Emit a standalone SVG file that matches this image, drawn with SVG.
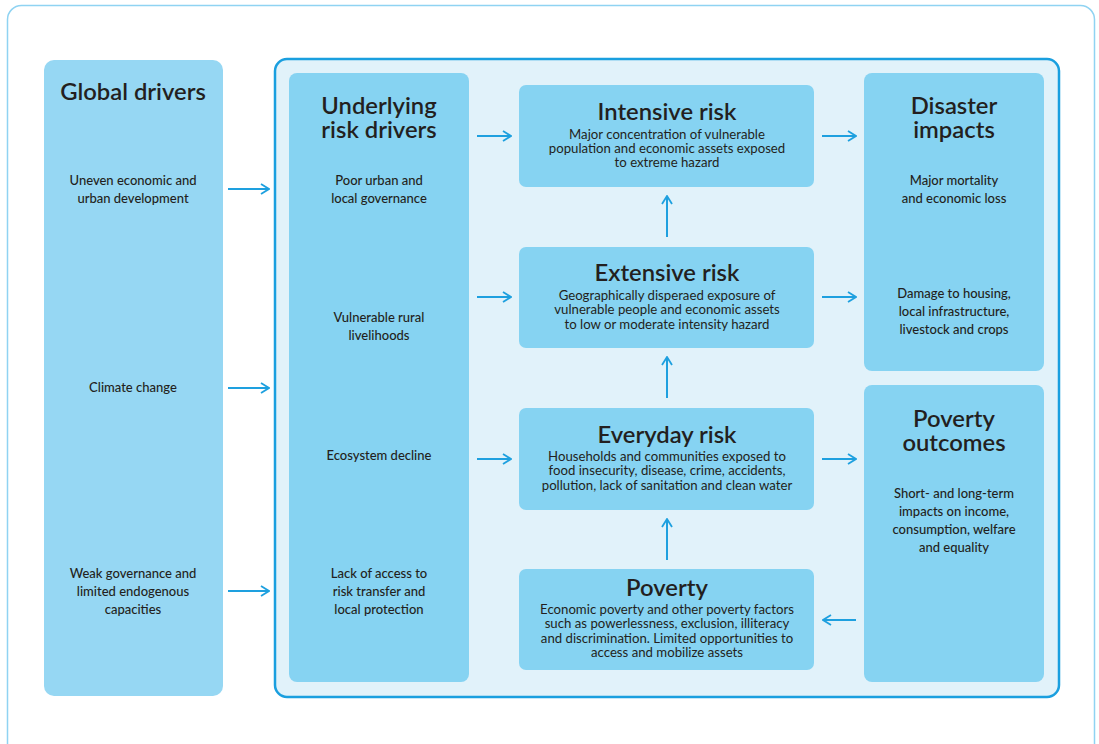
<svg xmlns="http://www.w3.org/2000/svg" width="1099" height="744" viewBox="0 0 1099 744">
  <defs>
    <marker id="arrow" viewBox="0 0 10 12" refX="9" refY="6" markerWidth="10" markerHeight="12" markerUnits="userSpaceOnUse" orient="auto">
      <path d="M1,1 L9,6 L1,11" fill="none" stroke="#1ea0df" stroke-width="1.8"/>
    </marker>
  </defs>
  <style>
    .frame { fill: #ffffff; stroke: #8fd3f2; stroke-width: 1.5; }
    .panel { fill: #e1f2fa; stroke: #1a9fdf; stroke-width: 2.5; }
    .outer { fill: #96d7f3; }
    .box { fill: #86d3f2; }
    .title { font-family: "Lato", "Liberation Sans", sans-serif; font-weight: 600; font-size: 23.8px; fill: #231f20; text-anchor: middle; }
    .body { font-family: "Lato", "Liberation Sans", sans-serif; font-size: 13.2px; fill: #231f20; text-anchor: middle; }
    .item { font-family: "Lato", "Liberation Sans", sans-serif; font-weight: 500; font-size: 13px; fill: #231f20; text-anchor: middle; }
    .conn line { stroke: #1ea0df; stroke-width: 2; marker-end: url(#arrow); }
  </style>

  <rect class="frame" x="7.5" y="5.5" width="1087" height="760" rx="14"/>
  <rect class="panel" x="275" y="59" width="784" height="638" rx="12"/>

  <g id="global-drivers">
    <rect class="outer" x="44" y="60" width="179" height="636" rx="10"/>
    <text class="title" x="133" y="100">Global drivers</text>
    <text class="item" x="133" y="185">Uneven economic and</text>
    <text class="item" x="133" y="203">urban development</text>
    <text class="item" x="133" y="392">Climate change</text>
    <text class="item" x="133" y="578">Weak governance and</text>
    <text class="item" x="133" y="596">limited endogenous</text>
    <text class="item" x="133" y="614">capacities</text>
  </g>

  <g id="underlying-risk-drivers">
    <rect class="box" x="289" y="73" width="180" height="609" rx="8"/>
    <text class="title" x="379" y="114">Underlying<tspan x="379" dy="24">risk drivers</tspan></text>
    <text class="item" x="379" y="185">Poor urban and</text>
    <text class="item" x="379" y="203">local governance</text>
    <text class="item" x="379" y="322">Vulnerable rural</text>
    <text class="item" x="379" y="340">livelihoods</text>
    <text class="item" x="379" y="460">Ecosystem decline</text>
    <text class="item" x="379" y="578">Lack of access to</text>
    <text class="item" x="379" y="596">risk transfer and</text>
    <text class="item" x="379" y="614">local protection</text>
  </g>

  <g id="intensive-risk">
    <rect class="box" x="519" y="85" width="295" height="102" rx="7"/>
    <text class="title" x="667" y="120">Intensive risk</text>
    <text class="body" x="667" y="138.5">Major concentration of vulnerable</text>
    <text class="body" x="667" y="153">population and economic assets exposed</text>
    <text class="body" x="667" y="167">to extreme hazard</text>
  </g>

  <g id="extensive-risk">
    <rect class="box" x="519" y="247" width="295" height="101" rx="7"/>
    <text class="title" x="667" y="281">Extensive risk</text>
    <text class="body" x="667" y="299.5">Geographically disperaed exposure of</text>
    <text class="body" x="667" y="314">vulnerable people and economic assets</text>
    <text class="body" x="667" y="328.5">to low or moderate intensity hazard</text>
  </g>

  <g id="everyday-risk">
    <rect class="box" x="519" y="408" width="295" height="102" rx="7"/>
    <text class="title" x="667" y="443">Everyday risk</text>
    <text class="body" x="667" y="460.5">Households and communities exposed to</text>
    <text class="body" x="667" y="475">food insecurity, disease, crime, accidents,</text>
    <text class="body" x="667" y="489.5">pollution, lack of sanitation and clean water</text>
  </g>

  <g id="poverty">
    <rect class="box" x="519" y="569" width="295" height="101" rx="7"/>
    <text class="title" x="667" y="596">Poverty</text>
    <text class="body" x="667" y="613.5">Economic poverty and other poverty factors</text>
    <text class="body" x="667" y="628">such as powerlessness, exclusion, illiteracy</text>
    <text class="body" x="667" y="642.5">and discrimination. Limited opportunities to</text>
    <text class="body" x="667" y="657">access and mobilize assets</text>
  </g>

  <g id="disaster-impacts">
    <rect class="box" x="864" y="73" width="180" height="298" rx="8"/>
    <text class="title" x="954" y="114">Disaster<tspan x="954" dy="24">impacts</tspan></text>
    <text class="item" x="954" y="185">Major mortality</text>
    <text class="item" x="954" y="203">and economic loss</text>
    <text class="item" x="954" y="298">Damage to housing,</text>
    <text class="item" x="954" y="316">local infrastructure,</text>
    <text class="item" x="954" y="334">livestock and crops</text>
  </g>

  <g id="poverty-outcomes">
    <rect class="box" x="864" y="385" width="180" height="297" rx="8"/>
    <text class="title" x="954" y="427">Poverty<tspan x="954" dy="24">outcomes</tspan></text>
    <text class="item" x="954" y="498">Short- and long-term</text>
    <text class="item" x="954" y="516">impacts on income,</text>
    <text class="item" x="954" y="534">consumption, welfare</text>
    <text class="item" x="954" y="552">and equality</text>
  </g>

  <g id="connectors" class="conn">
    <line x1="228" y1="189" x2="269" y2="189"/>
    <line x1="228" y1="388" x2="269" y2="388"/>
    <line x1="228" y1="591" x2="269" y2="591"/>
    <line x1="477" y1="136" x2="511" y2="136"/>
    <line x1="477" y1="297" x2="511" y2="297"/>
    <line x1="477" y1="459" x2="511" y2="459"/>
    <line x1="822" y1="136" x2="856" y2="136"/>
    <line x1="822" y1="297" x2="856" y2="297"/>
    <line x1="822" y1="459" x2="856" y2="459"/>
    <line x1="856" y1="620" x2="823" y2="620"/>
    <line x1="667" y1="237" x2="667" y2="196"/>
    <line x1="667" y1="398" x2="667" y2="357"/>
    <line x1="667" y1="560" x2="667" y2="519"/>
  </g>
</svg>
